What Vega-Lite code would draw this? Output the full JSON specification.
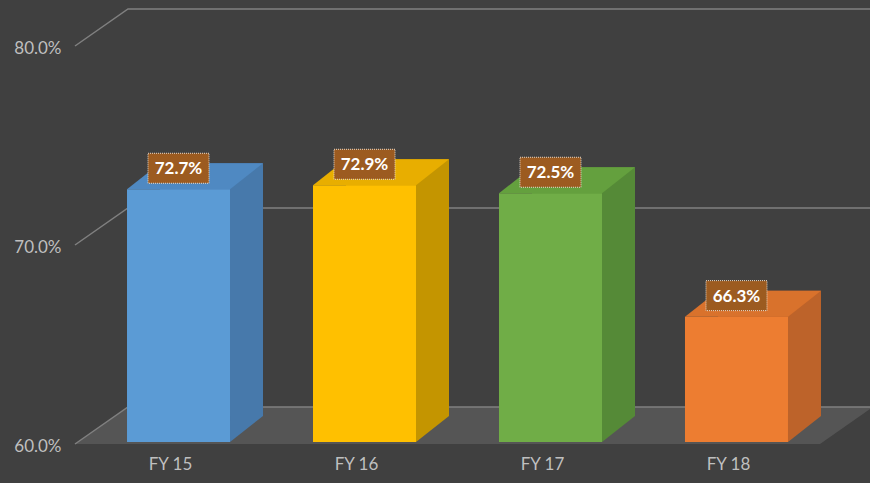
{
  "$schema": "https://vega.github.io/schema/vega-lite/v6.json",
  "autosize": {"type": "none"},
  "width": 765,
  "height": 398,
  "padding": {"left": 75, "top": 44, "right": 30, "bottom": 41},
  "background": "#404040",
  "config": {"view": {"stroke": null}},
  "datasets": {
    "bars": [
      {"fy": "FY 15", "v": 0.727},
      {"fy": "FY 16", "v": 0.729},
      {"fy": "FY 17", "v": 0.725},
      {"fy": "FY 18", "v": 0.663}
    ],
    "grid": [{"g": 0.6}, {"g": 0.7}, {"g": 0.8}],
    "floor": [{"g": 0.6}]
  },
  "resolve": {"scale": {"color": "independent"}},
  "layer": [
    {
      "data": {"name": "floor"},
      "mark": {"type": "point", "filled": true, "opacity": 1, "size": 4, "fill": "#555555", "strokeWidth": 0,
        "shape": "M-382.5,2L362.5,2L415.5,-35L-329.5,-35Z"},
      "encoding": {
        "y": {"field": "g", "type": "quantitative", "title": null,
          "scale": {"domain": [0.6, 0.8], "zero": false, "nice": false},
          "axis": {"values": [0.6, 0.7, 0.8], "format": ".1%", "domain": false, "ticks": false, "grid": false,
            "labelFont": "Lato", "labelFontSize": 17, "labelColor": "#bfbfbf", "labelPadding": 14, "labelOffset": 4}}
      }
    },
    {
      "data": {"name": "grid"},
      "mark": {"type": "point", "filled": false, "opacity": 1, "size": 4, "stroke": "#808080", "strokeWidth": 1.5,
        "shape": "M-382.5,2L-329.5,-35L430,-35"},
      "encoding": {
        "y": {"field": "g", "type": "quantitative", "title": null}
      }
    },
    {
      "data": {"name": "bars"},
      "mark": {"type": "bar", "xOffset": 33, "x2Offset": 33, "yOffset": -26, "y2Offset": -26},
      "encoding": {
        "x": {"field": "fy", "type": "nominal", "title": null,
          "scale": {"type": "band", "paddingInner": 0.4462, "paddingOuter": 0.2796},
          "axis": {"labelAngle": 0, "domain": false, "ticks": false, "labelFont": "Lato", "labelFontSize": 17,
            "labelColor": "#bfbfbf", "labelPadding": 14, "labelOffset": -8}},
        "y": {"field": "v", "type": "quantitative", "title": null},
        "y2": {"datum": 0.6},
        "color": {"field": "fy", "type": "nominal", "legend": null,
          "scale": {"domain": ["FY 15", "FY 16", "FY 17", "FY 18"], "range": ["#4779ab", "#c49500", "#558a37", "#bd632a"]}}
      }
    },
    {
      "data": {"name": "bars"},
      "mark": {"type": "point", "filled": true, "opacity": 1, "size": 4, "strokeWidth": 0,
        "shape": "M51.5,0L51.5,-26L84.5,-26Z"},
      "encoding": {
        "x": {"field": "fy", "type": "nominal", "title": null},
        "y": {"datum": 0.6, "type": "quantitative", "title": null},
        "color": {"field": "fy", "type": "nominal", "legend": null,
          "scale": {"domain": ["FY 15", "FY 16", "FY 17", "FY 18"], "range": ["#4779ab", "#c49500", "#558a37", "#bd632a"]}}
      }
    },
    {
      "data": {"name": "bars"},
      "mark": {"type": "bar"},
      "encoding": {
        "x": {"field": "fy", "type": "nominal", "title": null},
        "y": {"field": "v", "type": "quantitative", "title": null},
        "y2": {"datum": 0.6},
        "color": {"field": "fy", "type": "nominal", "legend": null,
          "scale": {"domain": ["FY 15", "FY 16", "FY 17", "FY 18"], "range": ["#5b9bd5", "#ffc000", "#70ad47", "#ed7d31"]}}
      }
    },
    {
      "data": {"name": "bars"},
      "mark": {"type": "point", "filled": true, "opacity": 1, "size": 4, "strokeWidth": 0,
        "shape": "M-51.5,0L51.5,0L84.5,-26L-18.5,-26Z"},
      "encoding": {
        "x": {"field": "fy", "type": "nominal", "title": null},
        "y": {"field": "v", "type": "quantitative", "title": null},
        "color": {"field": "fy", "type": "nominal", "legend": null,
          "scale": {"domain": ["FY 15", "FY 16", "FY 17", "FY 18"], "range": ["#4f89c2", "#e8ae00", "#64a03e", "#d9722c"]}}
      }
    },
    {
      "data": {"name": "bars"},
      "mark": {"type": "point", "filled": true, "opacity": 1, "size": 4, "fill": "#9c5b20",
        "stroke": "#eadccd", "strokeWidth": 1, "strokeDash": [1, 1], "yOffset": -21,
        "shape": "M-30.5,-15H30.5V15H-30.5Z"},
      "encoding": {
        "x": {"field": "fy", "type": "nominal", "title": null},
        "y": {"field": "v", "type": "quantitative", "title": null}
      }
    },
    {
      "data": {"name": "bars"},
      "mark": {"type": "text", "font": "Lato", "fontSize": 17, "fontWeight": "bold", "color": "#ffffff",
        "baseline": "middle", "align": "center", "yOffset": -20},
      "encoding": {
        "x": {"field": "fy", "type": "nominal", "title": null},
        "y": {"field": "v", "type": "quantitative", "title": null},
        "text": {"field": "v", "type": "quantitative", "format": ".1%"}
      }
    }
  ]
}
